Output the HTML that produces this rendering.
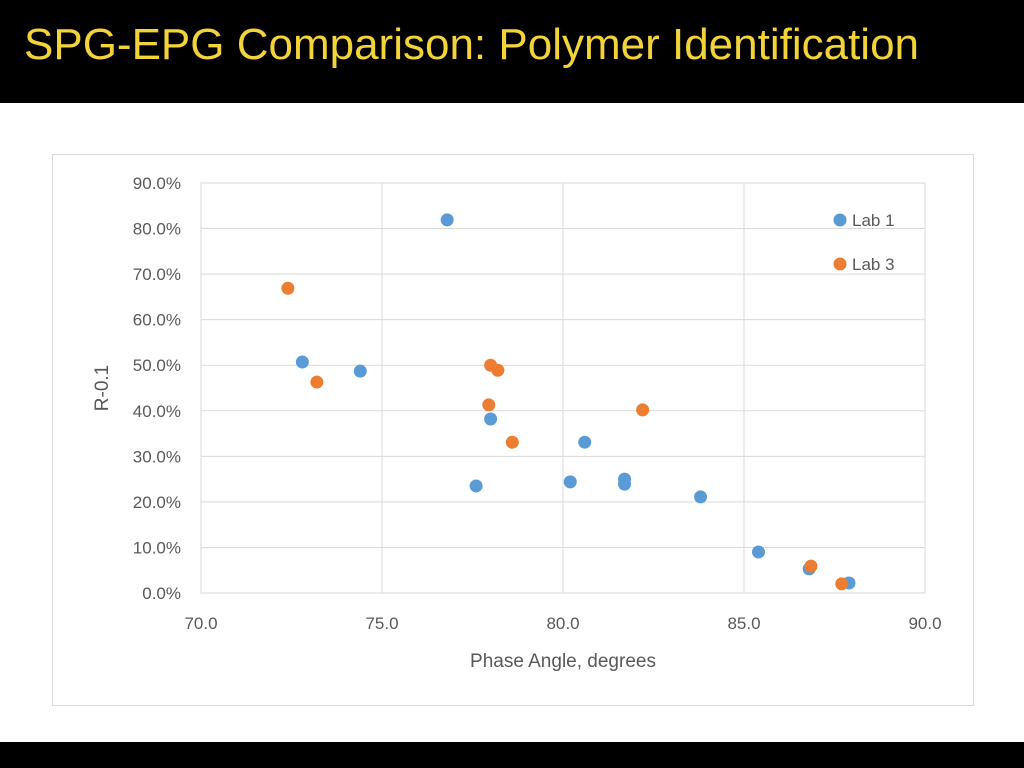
<!DOCTYPE html>
<html><head><meta charset="utf-8"><style>
body{margin:0;width:1024px;height:768px;background:#fff;position:relative;overflow:hidden;font-family:"Liberation Sans",sans-serif}
#title-bar{position:absolute;left:0;top:0;width:1024px;height:103px;background:#000}
#title{position:absolute;left:24px;top:20px;color:#f2d33a;font-size:44px;letter-spacing:0px;white-space:nowrap}
#bottom-bar{position:absolute;left:0;top:742px;width:1024px;height:26px;background:#000}
svg{position:absolute;left:0;top:0}
</style></head><body>
<div id="title-bar"><div id="title">SPG-EPG Comparison: Polymer Identification</div></div>
<div id="bottom-bar"></div>
<svg id="chart" width="1024" height="768"></svg>
<script>
const xTicks=[70,75,80,85,90];
const yTicks=[0,10,20,30,40,50,60,70,80,90];
const lab1X=[76.8,72.8,74.4,78.0,80.6,77.6,80.2,81.7,81.7,83.8,85.4,86.8,87.9];
const lab1Y=[81.9,50.7,48.7,38.2,33.1,23.5,24.4,25.0,23.9,21.1,9.0,5.3,2.2];
const lab3X=[72.4,73.2,78.0,78.2,77.95,78.6,82.2,86.85,87.7];
const lab3Y=[66.9,46.3,50.0,48.9,41.3,33.1,40.2,5.9,2.0];
const NS="http://www.w3.org/2000/svg",svg=document.getElementById('chart');
const X0=201,X1=925,Y0=593,Y1=183;
const sx=v=>X0+(v-70)/20*(X1-X0), sy=v=>Y0-v/90*(Y0-Y1);
function mk(t,a,txt){const e=document.createElementNS(NS,t);for(const k in a)e.setAttribute(k,a[k]);if(txt!==undefined)e.textContent=txt;svg.appendChild(e);return e;}
let e=mk('rect',{x:52.5,y:154.5,width:921,height:551,fill:'#fff',stroke:'#d9d9d9'});


yTicks.forEach(v=>{
 let l=mk('line',{x1:X0,x2:X1,y1:sy(v),y2:sy(v),stroke:'#d9d9d9'});
 
 
 let t=mk('text',{x:181,y:sy(v)+6,'text-anchor':'end','font-size':17,fill:'#595959'},v.toFixed(1)+'%');
 
 
});
xTicks.forEach(v=>{
 let l=mk('line',{x1:sx(v),x2:sx(v),y1:Y1,y2:Y0,stroke:'#d9d9d9'});
 
 
 let t=mk('text',{x:sx(v),y:629,'text-anchor':'middle','font-size':17,fill:'#595959'},v.toFixed(1));
 
 
});
e=mk('text',{x:563,y:667,'text-anchor':'middle','font-size':19,fill:'#595959'},'Phase Angle, degrees');


e=mk('text',{x:0,y:0,transform:'translate(108,388) rotate(-90)','text-anchor':'middle','font-size':19,fill:'#595959'},'R-0.1');


function series(xs,ys,col,name){xs.forEach((x,i)=>{let c=mk('circle',{cx:sx(x),cy:sy(ys[i]),r:6.5,fill:col});
 
 });}
series(lab1X,lab1Y,'#5b9bd5','lab1');
series(lab3X,lab3Y,'#ed7d31','lab3');
[['Lab 1','#5b9bd5',220],['Lab 3','#ed7d31',264]].forEach(([n,c,y])=>{
 let d=mk('circle',{cx:840,cy:y,r:6.5,fill:c});
 
 
 let t=mk('text',{x:852,y:y+6,'font-size':17,fill:'#595959'},n);
 
 
});
</script>
</body></html>
